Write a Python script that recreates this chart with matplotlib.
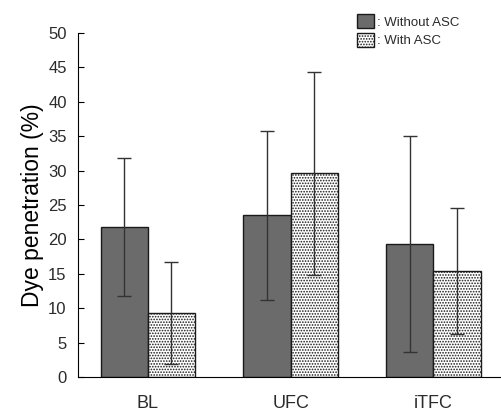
import matplotlib.pyplot as plt
import matplotlib.patches as mpatches
import numpy as np

plt.rcParams['font.family'] = ['Liberation Sans', 'DejaVu Sans']
plt.rcParams['hatch.color'] = '#a8a8a8'
plt.rcParams['hatch.linewidth'] = 0.8
plt.rcParams['text.color'] = '#2b2b2b'
plt.rcParams['xtick.labelcolor'] = '#2b2b2b'
plt.rcParams['ytick.labelcolor'] = '#2b2b2b'

# Data
categories = ["BL", "UFC", "iTFC"]
without_asc = [21.8, 23.5, 19.3]
without_err = [10.0, 12.3, 15.7]
with_asc = [9.3, 29.6, 15.4]
with_err = [7.4, 14.7, 9.2]

fig = plt.figure(figsize=(5.02, 4.13), dpi=100)
ax = fig.add_axes([0.155, 0.087, 0.845, 0.833])

x = np.arange(len(categories))
w = 0.33

ax.bar(x - w / 2, without_asc, w, color='#6b6b6b', edgecolor='#1a1a1a', linewidth=1,
       yerr=without_err, capsize=5, error_kw={'elinewidth': 1, 'capthick': 1, 'ecolor': '#333333'})
ax.bar(x + w / 2, with_asc, w, color='white', edgecolor='#1a1a1a', linewidth=1, hatch='......',
       yerr=with_err, capsize=5, error_kw={'elinewidth': 1, 'capthick': 1, 'ecolor': '#333333'})

ax.set_xlim(-0.49, 2.48)
ax.set_ylim(0, 50)
ax.set_yticks(range(0, 51, 5))
ax.set_xticks(x)
ax.set_xticklabels(categories, fontsize=13)
ax.tick_params(axis='y', direction='in', length=4, labelsize=12, pad=8)
ax.tick_params(axis='x', length=0, pad=13)
ax.set_ylabel("Dye penetration (%)", fontsize=16.5, labelpad=3)

for s in ['top', 'right']:
    ax.spines[s].set_visible(False)

handles = [mpatches.Patch(facecolor='#6b6b6b', edgecolor='#1a1a1a'),
           mpatches.Patch(facecolor='white', edgecolor='#1a1a1a', hatch='......')]
fig.legend(handles, [": Without ASC", ": With ASC"], loc='upper left',
           bbox_to_anchor=(0.688, 0.995), frameon=False, fontsize=9.5,
           handlelength=1.3, handleheight=1.3, handletextpad=0.2, labelspacing=0.3)

fig.savefig("out.png", dpi=100)
